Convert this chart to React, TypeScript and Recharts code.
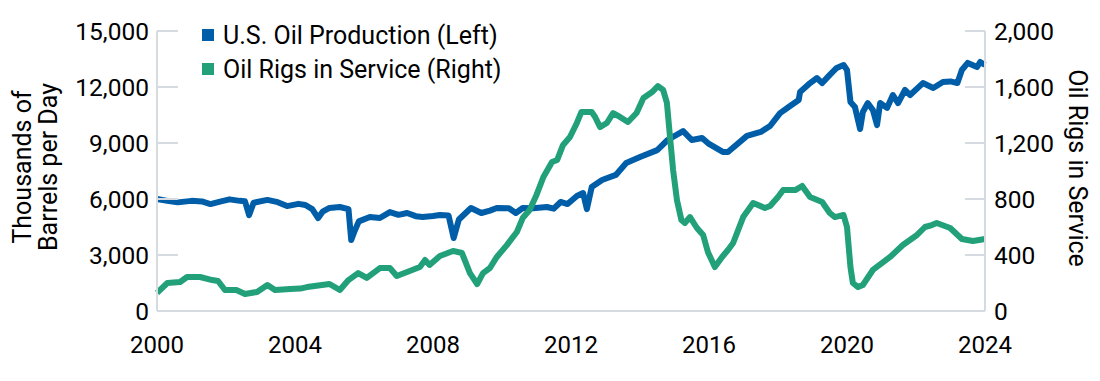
import React from "react";
import { LineChart, Line, XAxis, YAxis, Legend } from "recharts";

// U.S. oil production, thousands of barrels per day (left axis)
const prodYears = [
  2000.0, 2000.3, 2000.6, 2001.0, 2001.3, 2001.55, 2001.8, 2002.1, 2002.4, 2002.55, 2002.67, 2002.8,
  2003.2, 2003.5, 2003.77, 2004.1, 2004.3, 2004.5, 2004.67, 2004.8, 2005.0, 2005.3, 2005.55, 2005.63,
  2005.72, 2005.85, 2006.17, 2006.46, 2006.75, 2007.0, 2007.25, 2007.5, 2007.7, 2008.0, 2008.2, 2008.45,
  2008.6, 2008.75, 2009.1, 2009.4, 2009.65, 2009.85, 2010.2, 2010.4, 2010.6, 2010.9, 2011.3, 2011.5,
  2011.7, 2011.9, 2012.17, 2012.35, 2012.46, 2012.6, 2012.9, 2013.3, 2013.6, 2014.0, 2014.5, 2014.8,
  2015.16, 2015.25, 2015.5, 2015.8, 2016.0, 2016.4, 2016.55, 2017.1, 2017.5, 2017.77, 2018.06, 2018.35,
  2018.6, 2018.64, 2018.93, 2019.13, 2019.28, 2019.5, 2019.7, 2019.9, 2020.0, 2020.1, 2020.23, 2020.38,
  2020.46, 2020.6, 2020.75, 2020.87, 2020.96, 2021.16, 2021.33, 2021.48, 2021.68, 2021.83, 2022.2, 2022.5,
  2022.78, 2023.0, 2023.2, 2023.33, 2023.5, 2023.77, 2023.86, 2024.0,
];
const prodValues = [
  6000, 5900, 5820, 5900, 5870, 5730, 5850, 5980, 5900, 5880, 5140, 5800,
  5950, 5830, 5620, 5740, 5680, 5460, 4980, 5320, 5520, 5570, 5460, 3800,
  4250, 4800, 5040, 4980, 5300, 5150, 5250, 5080, 5040, 5090, 5140, 5120,
  3910, 4900, 5520, 5250, 5380, 5520, 5500, 5250, 5520, 5500, 5570, 5480,
  5840, 5730, 6160, 6320, 5460, 6640, 7020, 7290, 7930, 8250, 8620, 9160,
  9540, 9640, 9160, 9270, 8950, 8520, 8520, 9380, 9590, 9910, 10600, 10980,
  11300, 11730, 12210, 12480, 12210, 12650, 13020, 13180, 12910, 11200, 10930, 9750,
  10660, 11140, 10770, 9960, 11140, 10880, 11570, 11140, 11840, 11570, 12210, 11950,
  12270, 12300, 12210, 12910, 13290, 13070, 13340, 13180,
];

// Oil rigs in service (right axis)
const rigYears = [
  2000.0, 2000.3, 2000.67, 2000.87, 2001.25, 2001.6, 2001.77, 2001.97, 2002.3, 2002.55, 2002.9, 2003.2,
  2003.42, 2003.86, 2004.15, 2004.35, 2005.0, 2005.3, 2005.55, 2005.83, 2006.08, 2006.46, 2006.75, 2006.95,
  2007.25, 2007.62, 2007.77, 2007.9, 2008.2, 2008.58, 2008.84, 2009.07, 2009.28, 2009.45, 2009.65, 2009.85,
  2010.14, 2010.43, 2010.6, 2010.8, 2011.0, 2011.2, 2011.45, 2011.6, 2011.77, 2011.97, 2012.17, 2012.3,
  2012.6, 2012.7, 2012.84, 2013.04, 2013.22, 2013.42, 2013.65, 2013.9, 2014.1, 2014.35, 2014.52, 2014.67,
  2014.78, 2014.87, 2014.96, 2015.07, 2015.2, 2015.3, 2015.45, 2015.65, 2015.83, 2015.97, 2016.17, 2016.38,
  2016.55, 2016.7, 2016.99, 2017.28, 2017.62, 2017.77, 2018.0, 2018.15, 2018.5, 2018.7, 2018.93, 2019.28,
  2019.5, 2019.65, 2019.9, 2020.0, 2020.1, 2020.17, 2020.32, 2020.46, 2020.75, 2021.25, 2021.62, 2022.03,
  2022.26, 2022.46, 2022.6, 2022.99, 2023.33, 2023.65, 2024.0,
];
const rigValues = [
  129, 200, 207, 243, 243, 221, 214, 150, 150, 121, 136, 186,
  150, 157, 160, 171, 193, 150, 221, 271, 236, 307, 307, 250,
  279, 314, 364, 329, 393, 429, 414, 271, 193, 271, 307, 386,
  471, 564, 664, 721, 829, 957, 1064, 1079, 1186, 1243, 1343, 1421,
  1421, 1386, 1314, 1343, 1414, 1386, 1350, 1414, 1521, 1564, 1607, 1579,
  1486, 1243, 1007, 793, 650, 629, 671, 593, 543, 420, 314, 386,
  436, 486, 671, 771, 736, 750, 814, 864, 864, 893, 814, 779,
  700, 671, 686, 600, 314, 200, 171, 186, 293, 386, 471, 543,
  600, 614, 629, 593, 514, 500, 514,
];

const seriesNames = ["U.S. Oil Production (Left)", "Oil Rigs in Service (Right)"];
const yearTicks = [2000, 2004, 2008, 2012, 2016, 2020, 2024];
const leftTicks = [0, 3000, 6000, 9000, 12000, 15000];
const rightTicks = [0, 400, 800, 1200, 1600, 2000];

const BLUE = "#005EA8";
const GREEN = "#22A07A";
const AXIS = "#D6DBE1";

const prodData = prodYears.map((year, i) => ({ year, value: prodValues[i] }));
const rigData = rigYears.map((year, i) => ({ year, value: rigValues[i] }));

const fmt = (v: number) => v.toLocaleString("en-US");

// plot edges in chart coordinates
const PLOT_LEFT = 149;
const PLOT_RIGHT = 977;

function LeftTick({ y, payload }: any) {
  return (
    <g>
      <line x1={PLOT_LEFT} x2={PLOT_LEFT + 21} y1={y} y2={y} stroke={AXIS} strokeWidth={2} />
      <text x={PLOT_LEFT - 8} y={y} dy="0.36em" textAnchor="end" fontSize={24.5} fill="#000">
        {fmt(payload.value)}
      </text>
    </g>
  );
}

function RightTick({ y, payload }: any) {
  return (
    <g>
      <line x1={PLOT_RIGHT - 20} x2={PLOT_RIGHT} y1={y} y2={y} stroke={AXIS} strokeWidth={2} />
      <text x={PLOT_RIGHT + 9} y={y} dy="0.36em" textAnchor="start" fontSize={24.5} fill="#000">
        {fmt(payload.value)}
      </text>
    </g>
  );
}

function LegendBox({ payload }: any) {
  const items = [...(payload || [])].sort(
    (a: any, b: any) => seriesNames.indexOf(a.value) - seriesNames.indexOf(b.value)
  );
  return (
    <div>
      {items.map((p: any) => (
        <div key={p.value} style={{ display: "flex", alignItems: "center", height: 34, fontSize: 25, color: "#000" }}>
          <span style={{ width: 12, height: 12, background: p.color, marginRight: 9 }} />
          {p.value}
        </div>
      ))}
    </div>
  );
}

export default function App() {
  return (
    <div style={{ fontFamily: "Roboto, sans-serif" }}>
      <LineChart width={1092} height={373} margin={{ top: 23, right: 0, bottom: 0, left: 0 }}>
        <XAxis
          type="number"
          dataKey="year"
          domain={[2000, 2024]}
          ticks={yearTicks}
          allowDuplicatedCategory={false}
          tickLine={false}
          tickSize={0}
          tickMargin={25}
          height={70}
          stroke={AXIS}
          strokeWidth={2}
          tick={{ fill: "#000", fontSize: 24 }}
        />
        <YAxis
          yAxisId="left"
          domain={[0, 15000]}
          ticks={leftTicks}
          width={149}
          tickLine={false}
          tickSize={0}
          stroke={AXIS}
          strokeWidth={2}
          tick={<LeftTick />}
          label={({ viewBox }: any) => {
            const cy = viewBox.y + viewBox.height / 2 - 4;
            return (
              <text transform={`translate(0, ${cy}) rotate(-90)`} textAnchor="middle" fontSize={25} fill="#000">
                <tspan x={0} y={23}>Thousands of</tspan>
                <tspan x={0} y={49}>Barrels per Day</tspan>
              </text>
            );
          }}
        />
        <YAxis
          yAxisId="right"
          orientation="right"
          domain={[0, 2000]}
          ticks={rightTicks}
          width={115}
          tickLine={false}
          tickSize={0}
          stroke={AXIS}
          strokeWidth={2}
          tick={<RightTick />}
          label={({ viewBox }: any) => {
            const cy = viewBox.y + viewBox.height / 2 - 3;
            const cx = viewBox.x + 84;
            return (
              <text transform={`translate(${cx}, ${cy}) rotate(90)`} textAnchor="middle" fontSize={25} fill="#000">
                Oil Rigs in Service
              </text>
            );
          }}
        />
        <Legend
          content={<LegendBox />}
          layout="horizontal"
          verticalAlign="middle"
          align="center"
          wrapperStyle={{ position: "absolute", left: 194, top: 10, width: "auto" }}
        />
        <Line
          yAxisId="left"
          data={prodData}
          dataKey="value"
          name={seriesNames[0]}
          type="linear"
          stroke={BLUE}
          strokeWidth={6}
          strokeLinejoin="round"
          dot={false}
          isAnimationActive={false}
        />
        <Line
          yAxisId="right"
          data={rigData}
          dataKey="value"
          name={seriesNames[1]}
          type="linear"
          stroke={GREEN}
          strokeWidth={6}
          strokeLinejoin="round"
          dot={false}
          isAnimationActive={false}
        />
      </LineChart>
    </div>
  );
}
